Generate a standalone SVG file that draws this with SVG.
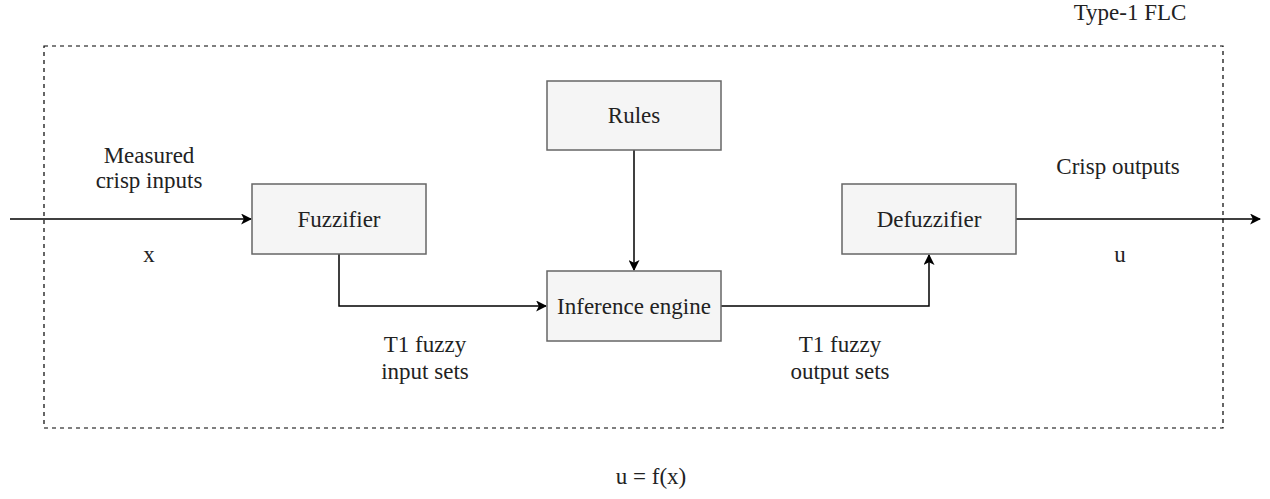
<svg xmlns="http://www.w3.org/2000/svg" width="1270" height="499" viewBox="0 0 1270 499">
<defs>
<style>
.box{fill:#f5f5f5;stroke:#666666;stroke-width:1.5}
.t{font-family:"Liberation Serif","Times New Roman",serif;font-size:23px;fill:#222;text-anchor:middle}
.c{fill:none;stroke:#000;stroke-width:1.5}
</style>
<marker id="arr" viewBox="0 0 10 10" refX="9" refY="5" markerWidth="11" markerHeight="11" markerUnits="userSpaceOnUse" orient="auto">
<path d="M0,0 L10,5 L0,10 L2.5,5 Z" fill="#000"/>
</marker>
</defs>
<rect width="1270" height="499" fill="#fff"/>
<g id="container">
<rect x="44" y="46" width="1179" height="382" fill="none" stroke="#000" stroke-width="1.2" stroke-dasharray="4,4"/>
<text class="t" x="1130" y="20">Type-1 FLC</text>
</g>
<g id="connectors">
<path class="c" d="M10,219 H251" marker-end="url(#arr)"/>
<path class="c" d="M339,254 V306 H546" marker-end="url(#arr)"/>
<path class="c" d="M634,150 V270" marker-end="url(#arr)"/>
<path class="c" d="M721,306 H929 V255" marker-end="url(#arr)"/>
<path class="c" d="M1016,219 H1260" marker-end="url(#arr)"/>
</g>
<g id="fuzzifier">
<rect class="box" x="252" y="184" width="174" height="70"/>
<text class="t" x="339" y="227">Fuzzifier</text>
</g>
<g id="rules">
<rect class="box" x="547" y="81" width="174" height="69"/>
<text class="t" x="634" y="123">Rules</text>
</g>
<g id="inference">
<rect class="box" x="547" y="271" width="174" height="70"/>
<text class="t" x="634" y="314">Inference engine</text>
</g>
<g id="defuzzifier">
<rect class="box" x="842" y="184" width="174" height="70"/>
<text class="t" x="929" y="227">Defuzzifier</text>
</g>
<g id="labels">
<text class="t" x="149" y="163">Measured</text>
<text class="t" x="149" y="188">crisp inputs</text>
<text class="t" x="149" y="262">x</text>
<text class="t" x="1118" y="174">Crisp outputs</text>
<text class="t" x="1120" y="262">u</text>
<text class="t" x="425" y="352">T1 fuzzy</text>
<text class="t" x="425" y="379">input sets</text>
<text class="t" x="840" y="352">T1 fuzzy</text>
<text class="t" x="840" y="379">output sets</text>
<text class="t" x="651" y="484">u = f(x)</text>
</g>
</svg>
